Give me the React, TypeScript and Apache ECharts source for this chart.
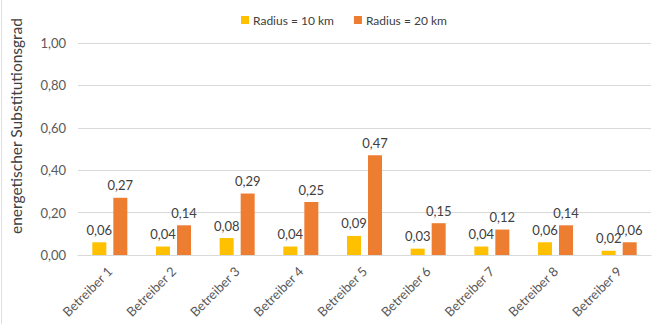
import React, { useEffect, useRef } from "react";
import * as echarts from "echarts";

const categories = [
  "Betreiber 1",
  "Betreiber 2",
  "Betreiber 3",
  "Betreiber 4",
  "Betreiber 5",
  "Betreiber 6",
  "Betreiber 7",
  "Betreiber 8",
  "Betreiber 9",
];
const radius10 = [0.06, 0.04, 0.08, 0.04, 0.09, 0.03, 0.04, 0.06, 0.02];
const radius20 = [0.27, 0.14, 0.29, 0.25, 0.47, 0.15, 0.12, 0.14, 0.06];
const seriesNames = ["Radius = 10 km", "Radius = 20 km"];
const axisTitle = "energetischer Substitutionsgrad";

const FONT = "Lato, 'Open Sans', sans-serif";
const TEXT = "#595959";
const fmt = (v: number) => v.toFixed(2).replace(".", ",");

export default function App() {
  const ref = useRef<HTMLDivElement>(null);

  useEffect(() => {
    document.body.style.margin = "0";
    if (!ref.current) return;
    const chart = echarts.init(ref.current, undefined, { renderer: "svg" });
    const label = {
      show: true,
      position: "top" as const,
      distance: 6,
      color: "#404040",
      fontFamily: FONT,
      fontSize: 13,
      formatter: (p: any) => fmt(p.value),
    };
    chart.setOption({
      animation: false,
      color: ["#FFC000", "#ED7D31"],
      textStyle: { fontFamily: FONT },
      legend: {
        top: 9,
        left: 236,
        itemWidth: 8,
        itemHeight: 8,
        itemGap: 20,
        icon: "rect",
        textStyle: { color: "#404040", fontSize: 12, fontFamily: FONT, padding: [0, 0, 0, -1] },
        data: seriesNames,
      },
      grid: { left: 77, right: 7, top: 43, bottom: 69 },
      xAxis: {
        type: "category",
        data: categories,
        axisTick: { show: false },
        axisLine: { lineStyle: { color: "#d9d9d9", width: 1 } },
        axisLabel: {
          rotate: 45,
          margin: 14,
          color: TEXT,
          fontSize: 13,
          fontFamily: FONT,
        },
      },
      yAxis: {
        type: "value",
        min: 0,
        max: 1,
        interval: 0.2,
        name: axisTitle,
        nameLocation: "middle",
        nameGap: 54,
        nameTextStyle: {
          color: "#404040",
          fontSize: 15.5,
          fontFamily: FONT,
          padding: [0, 0, 0, 46],
        },
        axisLabel: {
          margin: 12,
          color: TEXT,
          fontSize: 13,
          fontFamily: FONT,
          formatter: (v: number) => fmt(v),
        },
        splitLine: { lineStyle: { color: "#d9d9d9", width: 1 } },
      },
      graphic: [
        {
          type: "line",
          shape: { x1: 1.5, y1: 0, x2: 1.5, y2: 324 },
          style: { stroke: "#e0e0e0", lineWidth: 1 },
        },
      ],
      series: [
        {
          name: seriesNames[0],
          type: "bar",
          data: radius10,
          barWidth: 14,
          barGap: "50%",
          label,
        },
        {
          name: seriesNames[1],
          type: "bar",
          data: radius20,
          barWidth: 14,
          label,
        },
      ],
    });
    return () => chart.dispose();
  }, []);

  return <div ref={ref} style={{ width: 658, height: 324 }} />;
}
